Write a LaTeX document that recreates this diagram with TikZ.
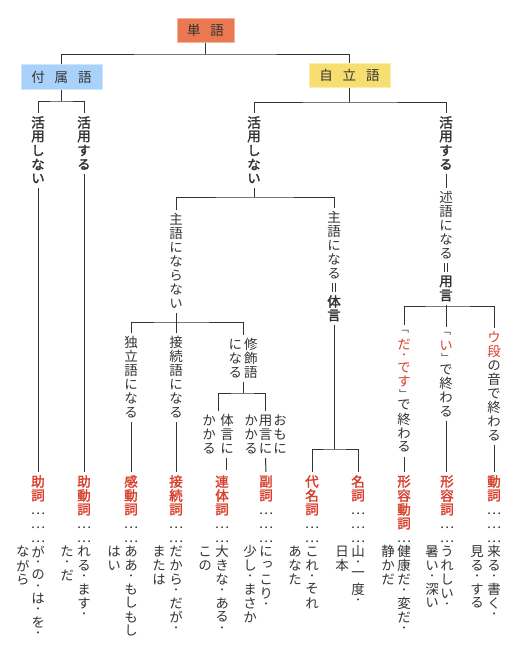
\documentclass[tikz,border=0pt]{standalone}
\usepackage{fontspec}
\usepackage{graphicx}
\setmainfont{Noto Sans CJK JP}[RawFeature=+vert,AutoFakeBold=2]

\definecolor{ink}{HTML}{333333}
\definecolor{hdred}{HTML}{D8402C}
\definecolor{tangoc}{HTML}{EA7850}
\definecolor{fuzokuc}{HTML}{A9D2FA}
\definecolor{jiritsuc}{HTML}{F7DE70}

% vertical (tategaki) text: one cell per character
\newlength\tateh
\setlength\tateh{14pt}
\makeatletter
\newcommand\tR{}\newcommand\tK{}\newcommand\tB{}\newcommand\tN{}
\newcommand\tEq{\rule{.8pt}{9pt}\hspace{2.2pt}\rule{.8pt}{9pt}}
\def\tate@sR{\tR}\def\tate@sK{\tK}\def\tate@sB{\tB}\def\tate@sN{\tN}
\def\tate@sDot{・}\def\tate@sOpen{「}\def\tate@sClose{」}\def\tate@sEll{…}
\def\tate@small{\fontsize{9.5pt}{9.5pt}\selectfont}
\def\tate@cell#1#2{\vbox to #1\tateh{\vss\hbox to \tateh{\hss\textcolor{\tate@col}{\tate@fnt#2}\hss}\vss}}
\def\tate@emcell#1{\hbox to \tateh{\hss\vrule width 0pt height .866\tateh depth .134\tateh
  \smash{\textcolor{\tate@col}{\tate@fnt#1}}\hss}}
\def\tate@do{%
  \ifx\tate@t\tate@sR \def\tate@col{hdred}\else
  \ifx\tate@t\tate@sK \def\tate@col{ink}\else
  \ifx\tate@t\tate@sB \def\tate@fnt{\bfseries}\else
  \ifx\tate@t\tate@sN \def\tate@fnt{}\else
  \ifx\tate@t\tate@sEll \tate@emcell{\tate@t}\else
  \ifx\tate@t\tate@sDot \tate@cell{.68}{\tate@small\tate@t}\else
  \ifx\tate@t\tate@sOpen \tate@cell{.68}{\tate@small\tate@t}\else
  \ifx\tate@t\tate@sClose \tate@cell{.68}{\tate@small\tate@t}\else
  \tate@cell{1}{\tate@t}%
  \fi\fi\fi\fi\fi\fi\fi\fi}
\newcommand\tate[1]{\vtop{\offinterlineskip\def\tate@col{ink}\def\tate@fnt{}%
  \@tfor\tate@t:=#1\do{\tate@do}}}
\makeatother

\begin{document}
\begin{tikzpicture}[x=1pt, y=-1pt,
    font=\fontsize{13.5pt}{16pt}\selectfont,
    edge/.style={draw=ink, line width=1pt},
    wordbox/.style={fill=#1, draw=#1!55!white, line width=.6pt, text=ink,
      inner sep=0pt, minimum height=24.5pt},
    tt/.style={anchor=north, inner sep=0pt, outer sep=2.5pt, text=ink}]
  \useasboundingbox (0,0) rectangle (524,649);

  % boxes
  \node[wordbox=tangoc, minimum width=57pt] (tango) at (205.5,30.5) {単\hspace{10pt}語};
  \node[wordbox=fuzokuc, minimum width=81pt] (fuzoku) at (61.5,77) {付\hspace{10pt}属\hspace{10pt}語};
  \node[wordbox=jiritsuc, minimum width=81pt] (jiritsu) at (349.5,75.5) {自\hspace{10pt}立\hspace{10pt}語};

  % branch labels
  \node[tt] (fz1) at (38,113) {\tate{\tB 活用しない}};
  \node[tt] (fz2) at (84,113) {\tate{\tB 活用する}};
  \node[tt] (jr1) at (254,113) {\tate{\tB 活用しない}};
  \node[tt] (jr2) at (446,113) {\tate{\tB 活用する}};
  \node[tt] (jr2b) at (446,188) {\tate{述語になる\tEq\tB 用言}};
  \node[tt] (sn1) at (176,210) {\tate{主語にならない}};
  \node[tt] (sn2) at (334,208) {\tate{主語になる\tEq\tB 体言}};
  \node[tt] (d1) at (131,333) {\tate{独立語になる}};
  \node[tt] (d2) at (176,333) {\tate{接続語になる}};
  \node[tt] (d3) at (243,335) {\tate{になる}\hspace{1.5pt}\tate{修飾語}};
  \node[tt] (d4) at (218,411) {\tate{かかる}\hspace{4pt}\tate{体言に}};
  \node[tt] (d5) at (265.5,411) {\tate{かかる}\hspace{.5pt}\tate{用言に}\hspace{.5pt}\tate{おもに}};
  \node[tt] (y1) at (404,325) {\tate{「\tR だ・です\tK 」で終わる}};
  \node[tt] (y2) at (446,327) {\tate{「\tR い\tK 」で終わる}};
  \node[tt] (y3) at (494,328) {\tate{\tR ウ段\tK の音で終わる}};

  % parts of speech
  \node[tt] (h1) at (38,472) {\tate{\tR\tB 助詞\tK\tN ………が・の・は・を・}};
  \node[tt] (h1b) at (23,542) {\tate{ながら}};
  \node[tt] (h2) at (84,472) {\tate{\tR\tB 助動詞\tK\tN ……れる・ます・}};
  \node[tt] (h2b) at (67,542) {\tate{た・だ}};
  \node[tt] (h3) at (131,472) {\tate{\tR\tB 感動詞\tK\tN ……ああ・もしもし}};
  \node[tt] (h3b) at (114,542) {\tate{はい}};
  \node[tt] (h4) at (176,472) {\tate{\tR\tB 接続詞\tK\tN ……だから・だが・}};
  \node[tt] (h4b) at (159,542) {\tate{または}};
  \node[tt] (h5) at (222,472) {\tate{\tR\tB 連体詞\tK\tN ……大きな・ある・}};
  \node[tt] (h5b) at (205,542) {\tate{この}};
  \node[tt] (h6) at (266,472) {\tate{\tR\tB 副詞\tK\tN ………にっこり・}};
  \node[tt] (h6b) at (250,542) {\tate{少し・まさか}};
  \node[tt] (h7) at (312,472) {\tate{\tR\tB 代名詞\tK\tN ……これ・それ}};
  \node[tt] (h7b) at (295,542) {\tate{あなた}};
  \node[tt] (h8) at (358,472) {\tate{\tR\tB 名詞\tK\tN ………山・一度・}};
  \node[tt] (h8b) at (342,542) {\tate{日本}};
  \node[tt] (h9) at (404,472) {\tate{\tR\tB 形容動詞\tK\tN …健康だ・変だ・}};
  \node[tt] (h9b) at (388,542) {\tate{静かだ}};
  \node[tt] (h10) at (447,472) {\tate{\tR\tB 形容詞\tK\tN ……うれしい・}};
  \node[tt] (h10b) at (432,542) {\tate{暑い・深い}};
  \node[tt] (h11) at (494,472) {\tate{\tR\tB 動詞\tK\tN ………来る・書く・}};
  \node[tt] (h11b) at (477,542) {\tate{見る・する}};

  % tree lines
  \coordinate (b0) at (205.5,54);
  \coordinate (b1) at (61.5,101);
  \coordinate (b2) at (349.5,102);
  \coordinate (b3) at (254,197);
  \coordinate (b4) at (176,322);
  \coordinate (b5) at (334,449);
  \coordinate (b6) at (446,306);
  \coordinate (b7) at (243,393);
  \coordinate (rt) at (226,469.5);

  \draw[edge] (tango.south) -- (b0);
  \draw[edge] (fuzoku.north) |- (b0) -| (jiritsu.north);
  \draw[edge] (fuzoku.south) -- (b1);
  \draw[edge] (fz1.north) |- (b1) -| (fz2.north);
  \draw[edge] (fz1.south) -- (h1.north);
  \draw[edge] (fz2.south) -- (h2.north);

  \draw[edge] (jiritsu.south) -- (b2);
  \draw[edge] (jr1.north) |- (b2) -| (jr2.north);
  \draw[edge] (jr2.south) -- (jr2b.north);
  \draw[edge] (jr1.south) -- (b3);
  \draw[edge] (sn1.north) |- (b3) -| (sn2.north);

  \draw[edge] (sn1.south) -- (b4);
  \draw[edge] (d1.north) |- (b4) -| (d3.north);
  \draw[edge] (b4) -- (d2.north);
  \draw[edge] (d1.south) -- (h3.north);
  \draw[edge] (d2.south) -- (h4.north);
  \draw[edge] (d3.south) -- (b7);
  \draw[edge] (d4.north) |- (b7) -| (d5.north);
  \draw[edge] (d4.south -| rt) -- (rt);
  \draw[edge] (d5.south) -- (h6.north);

  \draw[edge] (sn2.south) -- (b5);
  \draw[edge] (h7.north) |- (b5) -| (h8.north);

  \draw[edge] (jr2b.south) -- (b6);
  \draw[edge] (y1.north) |- (b6) -| (y3.north);
  \draw[edge] (b6) -- (y2.north);
  \draw[edge] (y1.south) -- (h9.north);
  \draw[edge] (y2.south) -- (y2.south |- h10.north);
  \draw[edge] (y3.south) -- (h11.north);
\end{tikzpicture}
\end{document}
